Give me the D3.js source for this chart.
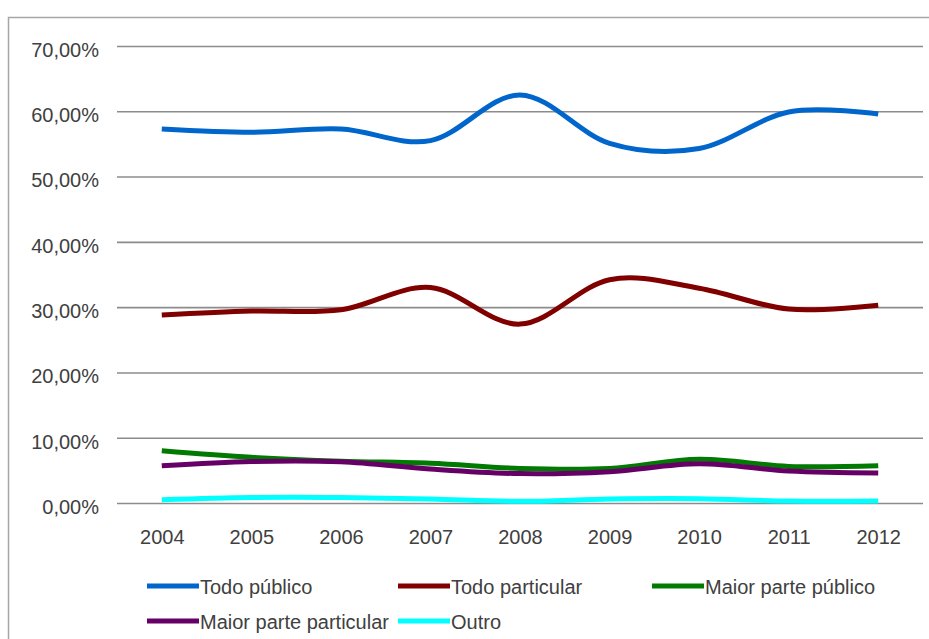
<!DOCTYPE html>
<html>
<head>
<meta charset="utf-8">
<script src="https://cdn.jsdelivr.net/npm/d3@7"></script>
<style>
  html, body { margin: 0; padding: 0; background: #fff; }
  svg { display: block; }
  text { font-family: "Liberation Sans", Arial, sans-serif; fill: #404040; }
</style>
</head>
<body>
<svg id="chart" width="929" height="639"></svg>
<script>
// Category labels (years)
const years = ["2004", "2005", "2006", "2007", "2008", "2009", "2010", "2011", "2012"];

// Share of each funding type, in percent
const todoPublico      = [57.3, 56.8, 57.3, 55.5, 62.5, 55.1, 54.3, 59.9, 59.6];
const todoParticular   = [28.8, 29.4, 29.6, 33.0, 27.4, 34.2, 32.9, 29.7, 30.3];
const maiorPublico     = [8.0, 7.0, 6.4, 6.1, 5.3, 5.3, 6.7, 5.6, 5.7];
const maiorParticular  = [5.7, 6.35, 6.3, 5.2, 4.5, 4.8, 6.0, 4.9, 4.6];
const outro            = [0.5, 0.85, 0.85, 0.6, 0.25, 0.6, 0.65, 0.3, 0.3];

// Y axis ticks
const yTicks = [0, 10, 20, 30, 40, 50, 60, 70];

const seriesNames  = ["Todo público", "Todo particular", "Maior parte público", "Maior parte particular", "Outro"];
const seriesValues = [todoPublico, todoParticular, maiorPublico, maiorParticular, outro];
const seriesColors = ["#0066CC", "#800000", "#007A00", "#660066", "#00FFFF"];

const svg = d3.select("#chart");

// Outer frame (runs off the right and bottom edges)
svg.append("rect")
  .attr("x", 8.5).attr("y", 17.5)
  .attr("width", 1000).attr("height", 1000)
  .attr("fill", "none")
  .attr("stroke", "#a6a6a6")
  .attr("stroke-width", 1.5);

const plot = { left: 117, right: 923, top: 46, bottom: 503 };

const x = d3.scalePoint()
  .domain(years)
  .range([plot.left, plot.right])
  .padding(0.5);

const y = d3.scaleLinear()
  .domain([0, 70])
  .range([plot.bottom, plot.top]);

const ptBR = d3.formatLocale({ decimal: ",", thousands: ".", grouping: [3], currency: ["", ""] });
const fmt = ptBR.format(".2f");

// Y axis with horizontal gridlines
const yAxis = svg.append("g")
  .attr("transform", `translate(${plot.left},0)`)
  .call(d3.axisLeft(y)
    .tickValues(yTicks)
    .tickSize(-(plot.right - plot.left))
    .tickPadding(18)
    .tickFormat(d => fmt(d) + "%"));
yAxis.select(".domain").remove();
yAxis.selectAll(".tick line")
  .attr("stroke", "#8c8c8c")
  .attr("stroke-width", 1.6);
yAxis.selectAll(".tick text")
  .attr("y", 4)
  .style("font-size", "20px")
  .attr("fill", "#404040");

// X axis labels
const xAxis = svg.append("g")
  .attr("transform", `translate(0,${plot.bottom})`)
  .call(d3.axisBottom(x).tickSize(0).tickPadding(27));
xAxis.select(".domain").remove();
xAxis.selectAll(".tick text")
  .style("font-size", "20px")
  .attr("fill", "#404040");

// Smoothed series lines
const line = d3.line()
  .x((d, i) => x(years[i]))
  .y(d => y(d))
  .curve(d3.curveCardinal.tension(0));

seriesValues.forEach((vals, k) => {
  svg.append("path")
    .datum(vals)
    .attr("d", line)
    .attr("fill", "none")
    .attr("stroke", seriesColors[k])
    .attr("stroke-width", 5)
    .attr("stroke-linejoin", "round")
    .attr("stroke-linecap", "butt");
});

// Legend, two rows
const legendPos = [
  { lx: 147, ly: 586 },
  { lx: 398, ly: 586 },
  { lx: 652, ly: 586 },
  { lx: 147, ly: 621 },
  { lx: 398, ly: 621 }
];
const legend = svg.append("g");
seriesNames.forEach((name, k) => {
  const p = legendPos[k];
  legend.append("line")
    .attr("x1", p.lx).attr("x2", p.lx + 52)
    .attr("y1", p.ly).attr("y2", p.ly)
    .attr("stroke", seriesColors[k])
    .attr("stroke-width", 5);
  legend.append("text")
    .attr("x", p.lx + 53)
    .attr("y", p.ly + 8)
    .style("font-size", "20px")
    .text(name);
});
</script>
</body>
</html>
